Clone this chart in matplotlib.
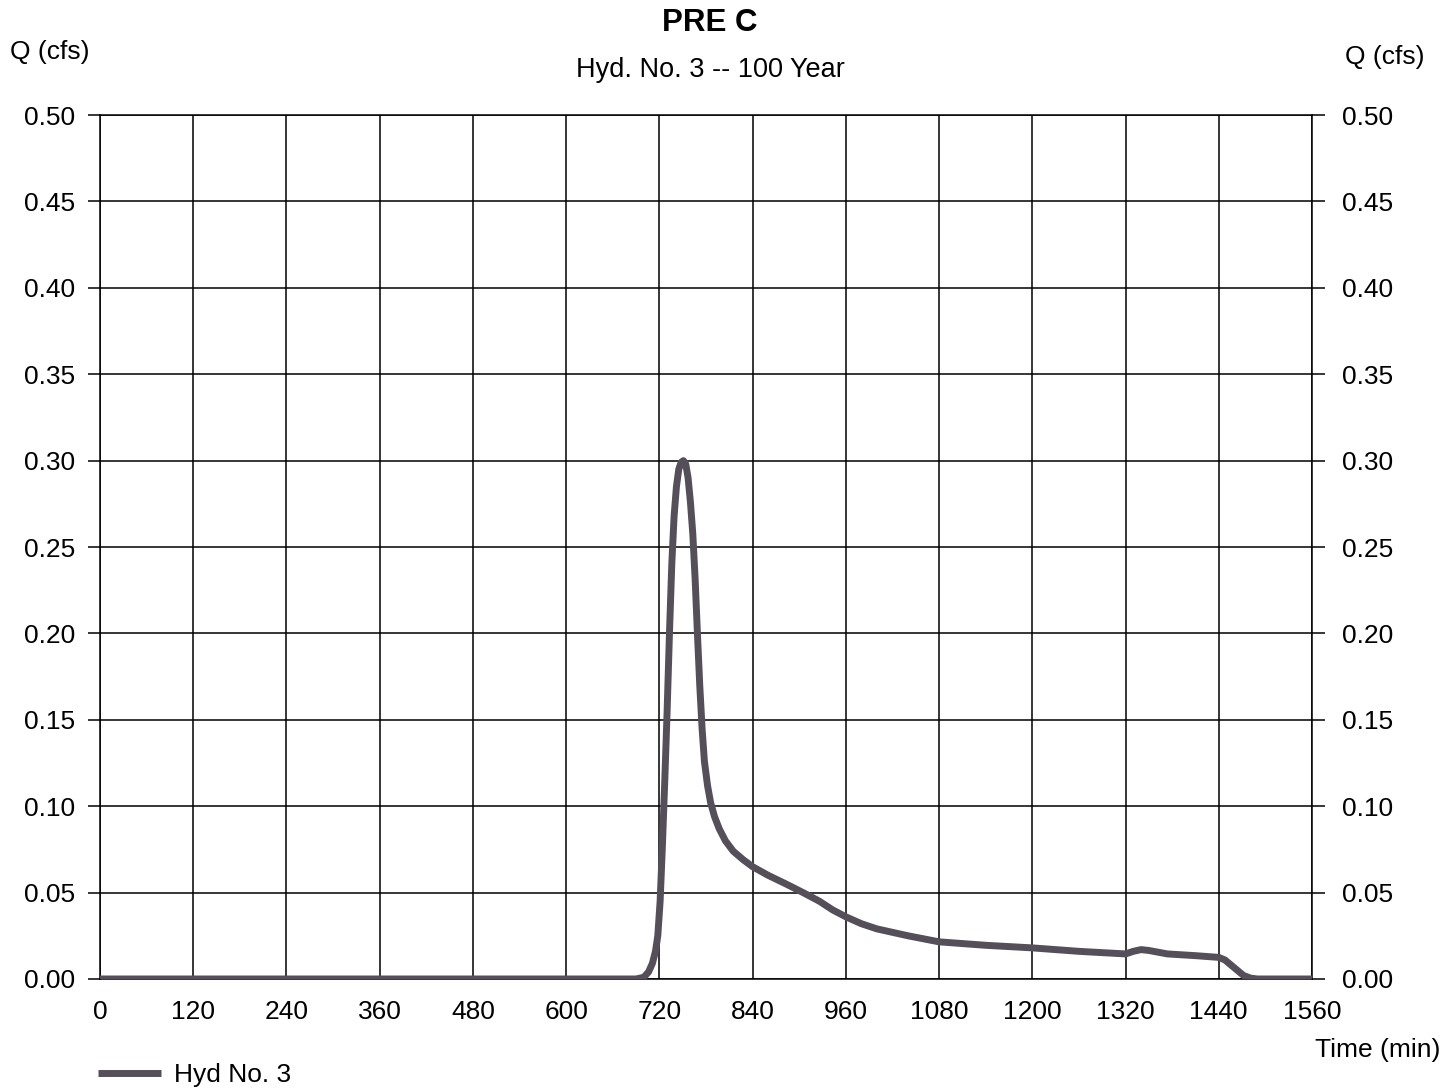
import matplotlib
matplotlib.use("Agg")
import matplotlib.pyplot as plt

plt.rcParams["font.family"] = ["Liberation Sans", "DejaVu Sans"]

# 유출 수문곡선 (Hyd. No. 3, 100년 빈도) - 그림에서 읽은 값
time_min = [0, 690, 700, 706, 711, 715, 718, 721, 724, 727, 730, 733, 736,
            739, 742, 745, 748, 751, 754, 757, 760, 763, 766, 769, 772, 775,
            778, 782, 786, 791, 797, 805, 815, 828, 840, 860, 883, 905, 926,
            943, 960, 980, 1000, 1040, 1080, 1140, 1200, 1260, 1300, 1320,
            1330, 1340, 1350, 1374, 1410, 1440, 1448, 1456, 1464, 1472, 1481,
            1490, 1560]
flow_cfs = [0, 0, 0.001, 0.004, 0.009, 0.016, 0.025, 0.045, 0.078, 0.115,
            0.155, 0.2, 0.24, 0.268, 0.285, 0.295, 0.299, 0.30, 0.298, 0.29,
            0.276, 0.258, 0.232, 0.2, 0.17, 0.145, 0.126, 0.112, 0.102, 0.094,
            0.087, 0.08, 0.074, 0.069, 0.065, 0.06, 0.055, 0.05, 0.045, 0.04,
            0.036, 0.032, 0.029, 0.025, 0.0215, 0.0195, 0.018, 0.016, 0.015,
            0.0145, 0.016, 0.017, 0.0165, 0.0145, 0.0135, 0.0125, 0.011,
            0.008, 0.005, 0.002, 0.0005, 0, 0]

x_ticks = list(range(0, 1561, 120))
y_ticks = [0.00, 0.05, 0.10, 0.15, 0.20, 0.25, 0.30, 0.35, 0.40, 0.45, 0.50]

LINE = "#554f5a"
FS = 19

fig = plt.figure(figsize=(14.55, 10.88), dpi=100)
ax = fig.add_axes([0.0687, 0.1002, 0.833, 0.794])

ax.plot(time_min, flow_cfs, color=LINE, linewidth=5,
        solid_joinstyle="round", solid_capstyle="butt", label="Hyd No. 3",
        zorder=3)

ax.set_xlim(0, 1560)
ax.set_ylim(0, 0.50)
ax.set_xticks(x_ticks)
ax.set_xticklabels([str(x) for x in x_ticks])
ax.set_yticks(y_ticks)
ax.set_yticklabels([f"{y:.2f}" for y in y_ticks])
ax.grid(True, color="black", linewidth=1.1)
ax.set_axisbelow(True)
for spine in ax.spines.values():
    spine.set_color("black")
    spine.set_linewidth(1.1)

ax.tick_params(axis="x", length=0, pad=15, labelsize=FS)
ax.tick_params(axis="y", direction="out", length=9, width=1.1,
               pad=9, labelsize=FS, left=True, right=True,
               labelleft=True, labelright=True)
# 오른쪽 눈금 라벨은 축에서 조금 더 떨어져 있음
for lab in ax.get_yticklabels(which="major"):
    pass
for t in ax.yaxis.get_major_ticks():
    t.label2.set_x(1.004)

fig.text(0.488, 0.979, "PRE C", ha="center", va="center", fontsize=22.5,
         fontweight="bold")
fig.text(0.488, 0.936, "Hyd. No. 3 -- 100 Year", ha="center", va="center",
         fontsize=19.5)
fig.text(0.007, 0.952, "Q (cfs)", ha="left", va="center", fontsize=19)
fig.text(0.979, 0.948, "Q (cfs)", ha="right", va="center", fontsize=19)
fig.text(0.990, 0.035, "Time (min)", ha="right", va="center", fontsize=19)

fig.legend(loc="center left", bbox_to_anchor=(0.051, 0.012), frameon=False,
           fontsize=19, handlelength=2.4, handletextpad=0.5)

fig.savefig("out.png", dpi=100, facecolor="white")
